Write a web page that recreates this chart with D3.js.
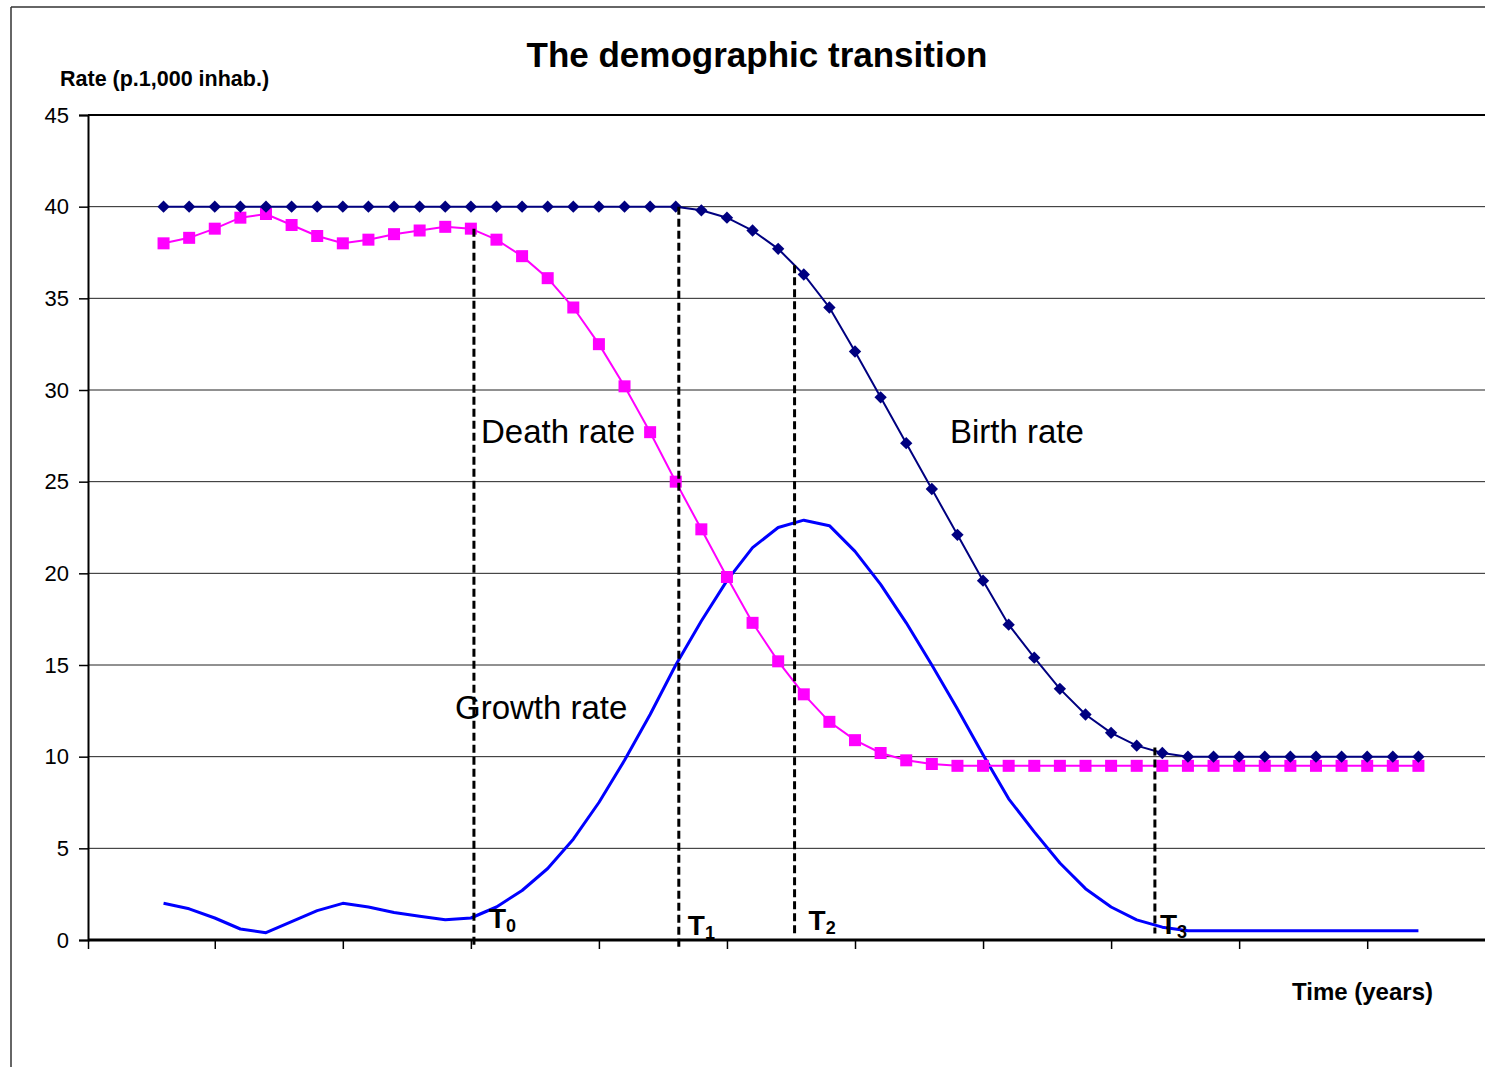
<!DOCTYPE html>
<html>
<head>
<meta charset="utf-8">
<script src="https://cdn.jsdelivr.net/npm/d3@7"></script>
<style>
  html, body { margin: 0; padding: 0; background: #fff; }
  svg { display: block; font-family: "Liberation Sans", Arial, sans-serif; }
</style>
</head>
<body>
<svg id="chart" width="1485" height="1067"></svg>
<script>
// Time steps of the model (one point per step)
const steps = d3.range(0, 50);

// Crude birth rate, per 1,000 inhabitants
const birthRate = [
  40, 40, 40, 40, 40, 40, 40, 40, 40, 40,
  40, 40, 40, 40, 40, 40, 40, 40, 40, 40,
  40, 39.8, 39.4, 38.7, 37.7, 36.3, 34.5, 32.1, 29.6, 27.1,
  24.6, 22.1, 19.6, 17.2, 15.4, 13.7, 12.3, 11.3, 10.6, 10.2,
  10, 10, 10, 10, 10, 10, 10, 10, 10, 10
];

// Crude death rate, per 1,000 inhabitants
const deathRate = [
  38.0, 38.3, 38.8, 39.4, 39.6, 39.0, 38.4, 38.0, 38.2, 38.5,
  38.7, 38.9, 38.8, 38.2, 37.3, 36.1, 34.5, 32.5, 30.2, 27.7,
  25.0, 22.4, 19.8, 17.3, 15.2, 13.4, 11.9, 10.9, 10.2, 9.8,
  9.6, 9.5, 9.5, 9.5, 9.5, 9.5, 9.5, 9.5, 9.5, 9.5,
  9.5, 9.5, 9.5, 9.5, 9.5, 9.5, 9.5, 9.5, 9.5, 9.5
];

// Natural growth rate, per 1,000 inhabitants
const growthRate = [
  2.0, 1.7, 1.2, 0.6, 0.4, 1.0, 1.6, 2.0, 1.8, 1.5,
  1.3, 1.1, 1.2, 1.8, 2.7, 3.9, 5.5, 7.5, 9.8, 12.3,
  15.0, 17.4, 19.6, 21.4, 22.5, 22.9, 22.6, 21.2, 19.4, 17.3,
  15.0, 12.6, 10.1, 7.7, 5.9, 4.2, 2.8, 1.8, 1.1, 0.7,
  0.5, 0.5, 0.5, 0.5, 0.5, 0.5, 0.5, 0.5, 0.5, 0.5
];

// Y axis ticks
const yTicks = [0, 5, 10, 15, 20, 25, 30, 35, 40, 45];

// Phase boundaries of the transition: time, and the span of the marker line
const phaseSubs = ["0", "1", "2", "3"];
const phaseTimes = [12.12, 20.12, 24.64, 38.71];
const phaseTops = [38.8, 40, 36.8, 10.5];
const phaseBottoms = [-0.45, -0.45, 0.3, 0.35];

const svg = d3.select("#chart");

const plot = { left: 88, right: 1485, top: 115, bottom: 940 };

const x = d3.scaleLinear().domain([-2.95, 51.6]).range([plot.left, plot.right]);
const y = d3.scaleLinear().domain([0, 45]).range([plot.bottom, plot.top]);

// Outer chart frame (left and top edges)
svg.append("line").attr("x1", 11).attr("x2", 11).attr("y1", 7).attr("y2", 1067)
  .attr("stroke", "#333").attr("stroke-width", 1.5);
svg.append("line").attr("x1", 11).attr("x2", 1485).attr("y1", 7).attr("y2", 7)
  .attr("stroke", "#333").attr("stroke-width", 1.5);

// Horizontal gridlines
svg.append("g")
  .selectAll("line")
  .data(yTicks.filter(d => d > 0 && d < 45))
  .join("line")
  .attr("x1", plot.left).attr("x2", plot.right)
  .attr("y1", d => y(d)).attr("y2", d => y(d))
  .attr("stroke", "#222").attr("stroke-width", 1);

// Top edge of the plot area
svg.append("line")
  .attr("x1", plot.left).attr("x2", plot.right)
  .attr("y1", y(45)).attr("y2", y(45))
  .attr("stroke", "#000").attr("stroke-width", 2);

// Y axis
const yAxis = svg.append("g")
  .attr("transform", `translate(${plot.left},0)`)
  .call(d3.axisLeft(y).tickValues(yTicks).tickSize(9).tickPadding(10));
yAxis.select(".domain").attr("stroke", "#000").attr("stroke-width", 2);
yAxis.selectAll(".tick line").attr("stroke", "#000").attr("stroke-width", 1.5);
yAxis.selectAll(".tick text")
  .attr("font-size", 22).attr("fill", "#000")
  .attr("font-family", "Liberation Sans, Arial, sans-serif");

// X axis (ticks every five steps, no labels)
const xTickVals = [-2.95].concat(d3.range(2, 50, 5));
const xAxis = svg.append("g")
  .attr("transform", `translate(0,${plot.bottom})`)
  .call(d3.axisBottom(x).tickValues(xTickVals).tickSize(9).tickFormat(""));
xAxis.select(".domain").attr("stroke", "#000").attr("stroke-width", 3)
  .attr("d", `M${plot.left},0H${plot.right}`);
xAxis.selectAll(".tick line").attr("stroke", "#000").attr("stroke-width", 1.5);

// Series lines
const line = vals => d3.line().x((d, i) => x(steps[i])).y(d => y(d))(vals);

svg.append("path").attr("d", line(growthRate))
  .attr("fill", "none").attr("stroke", "#0000FF").attr("stroke-width", 3)
  .attr("stroke-linejoin", "round");

svg.append("path").attr("d", line(deathRate))
  .attr("fill", "none").attr("stroke", "#FF00FF").attr("stroke-width", 2);

svg.append("path").attr("d", line(birthRate))
  .attr("fill", "none").attr("stroke", "#000080").attr("stroke-width", 2);

// Death rate markers (squares)
svg.append("g")
  .selectAll("rect")
  .data(deathRate)
  .join("rect")
  .attr("x", (d, i) => x(steps[i]) - 6)
  .attr("y", d => y(d) - 6)
  .attr("width", 12).attr("height", 12)
  .attr("fill", "#FF00FF");

// Birth rate markers (diamonds)
svg.append("g")
  .selectAll("path")
  .data(birthRate)
  .join("path")
  .attr("transform", (d, i) => `translate(${x(steps[i])},${y(d)}) rotate(45)`)
  .attr("d", d3.symbol().type(d3.symbolSquare).size(76))
  .attr("fill", "#000080");

// Phase boundary lines
svg.append("g")
  .selectAll("line")
  .data(phaseTimes)
  .join("line")
  .attr("x1", d => x(d)).attr("x2", d => x(d))
  .attr("y1", (d, i) => y(phaseTops[i]))
  .attr("y2", (d, i) => y(phaseBottoms[i]))
  .attr("stroke", "#000").attr("stroke-width", 3)
  .attr("stroke-dasharray", "8,4");

// Phase labels T0..T3
const labelOffsets = [[15, 928], [9, 935], [14, 930], [5, 934]];
phaseTimes.forEach((t, i) => {
  const txt = svg.append("text")
    .attr("x", x(t) + labelOffsets[i][0])
    .attr("y", labelOffsets[i][1])
    .attr("font-size", 28).attr("font-weight", "bold").attr("fill", "#000");
  txt.append("tspan").text("T");
  txt.append("tspan").text(phaseSubs[i])
    .attr("font-size", 18).attr("dy", 4);
});

// Series labels
const seriesLabel = (text, xp, yp) =>
  svg.append("text").attr("x", xp).attr("y", yp)
    .attr("font-size", 33).attr("fill", "#000").text(text);
seriesLabel("Death rate", 481, 443);
seriesLabel("Birth rate", 950, 443);
seriesLabel("Growth rate", 455, 719);

// Title and axis titles
svg.append("text").attr("x", 757).attr("y", 67)
  .attr("text-anchor", "middle").attr("font-size", 35).attr("font-weight", "bold")
  .text("The demographic transition");

svg.append("text").attr("x", 60).attr("y", 86)
  .attr("font-size", 21.5).attr("font-weight", "bold")
  .text("Rate (p.1,000 inhab.)");

svg.append("text").attr("x", 1433).attr("y", 1000)
  .attr("text-anchor", "end").attr("font-size", 24).attr("font-weight", "bold")
  .text("Time (years)");
</script>
</body>
</html>
